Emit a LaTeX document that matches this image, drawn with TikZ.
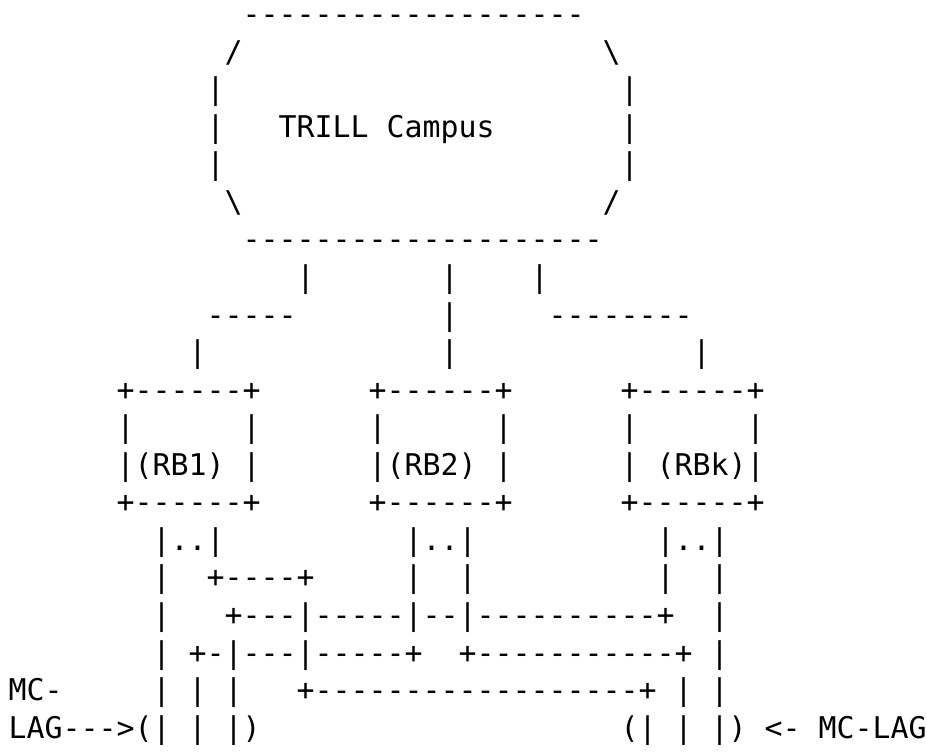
\documentclass[tikz,border=0pt]{standalone}
\usepackage{fontspec}
\setmonofont{DejaVu Sans Mono}
\frenchspacing

\begin{document}
\begin{tikzpicture}[x=6.0205pt,y=12.56pt]
\useasboundingbox (-2.68pt,8.24pt) rectangle (307.37pt,-243.62pt);

\begin{scope}[every node/.style={anchor=base west,inner sep=0pt,
              font=\ttfamily\fontsize{10}{12}\selectfont}]
    % campus
    \node (c1) at (13,0) {-------------------};
    \node (c2) at (12,-1) {/};
    \node (c3) at (33,-1) {\textbackslash};
    \node (c4) at (11,-2) {|};
    \node (c5) at (34,-2) {|};
    \node (c6) at (11,-3) {|};
    \node (campus) at (15,-3) {TRILL Campus};
    \node (c7) at (34,-3) {|};
    \node (c8) at (11,-4) {|};
    \node (c9) at (34,-4) {|};
    \node (c10) at (12,-5) {\textbackslash};
    \node (c11) at (33,-5) {/};
    \node (c12) at (13,-6) {--------------------};

    % links down to the RBridges
    \node (u1) at (16,-7) {|};
    \node (u2) at (24,-7) {|};
    \node (u3) at (29,-7) {|};
    \node (u4) at (11,-8) {-----};
    \node (u5) at (24,-8) {|};
    \node (u6) at (30,-8) {--------};
    \node (u7) at (10,-9) {|};
    \node (u8) at (24,-9) {|};
    \node (u9) at (38,-9) {|};

    % RB1, RB2, RBk
    \node (rb1t) at (6,-10) {+------+};
    \node (rb2t) at (20,-10) {+------+};
    \node (rbkt) at (34,-10) {+------+};
    \node (s1) at (6,-11) {|};
    \node (s2) at (13,-11) {|};
    \node (s3) at (20,-11) {|};
    \node (s4) at (27,-11) {|};
    \node (s5) at (34,-11) {|};
    \node (s6) at (41,-11) {|};
    \node (rb1) at (6,-12) {|(RB1) |};
    \node (rb2) at (20,-12) {|(RB2) |};
    \node (rbk) at (34,-12) {| (RBk)|};
    \node (rb1b) at (6,-13) {+------+};
    \node (rb2b) at (20,-13) {+------+};
    \node (rbkb) at (34,-13) {+------+};

    % ports and links
    \node (p1) at (8,-14) {|..|};
    \node (p2) at (22,-14) {|..|};
    \node (p3) at (36,-14) {|..|};
    \node (l1) at (8,-15) {|};
    \node (l2) at (11,-15) {+----+};
    \node (l3) at (22,-15) {|};
    \node (l4) at (25,-15) {|};
    \node (l5) at (36,-15) {|};
    \node (l6) at (39,-15) {|};
    \node (l7) at (8,-16) {|};
    \node (l8) at (12,-16) {+---|-----|--|----------+};
    \node (l9) at (39,-16) {|};
    \node (l10) at (8,-17) {|};
    \node (l11) at (10,-17) {+-|---|-----+};
    \node (l12) at (25,-17) {+-----------+};
    \node (l13) at (39,-17) {|};
    \node (mc) at (0,-18) {MC-};
    \node (l14) at (8,-18) {| | |};
    \node (l15) at (16,-18) {+------------------+};
    \node (l16) at (37,-18) {| |};

    % the two MC-LAGs
    \node (lag1) at (0,-19) {LAG--->(| | |)};
    \node (lag2) at (34,-19) {(| | |) <- MC-LAG};
\end{scope}
\end{tikzpicture}
\end{document}
